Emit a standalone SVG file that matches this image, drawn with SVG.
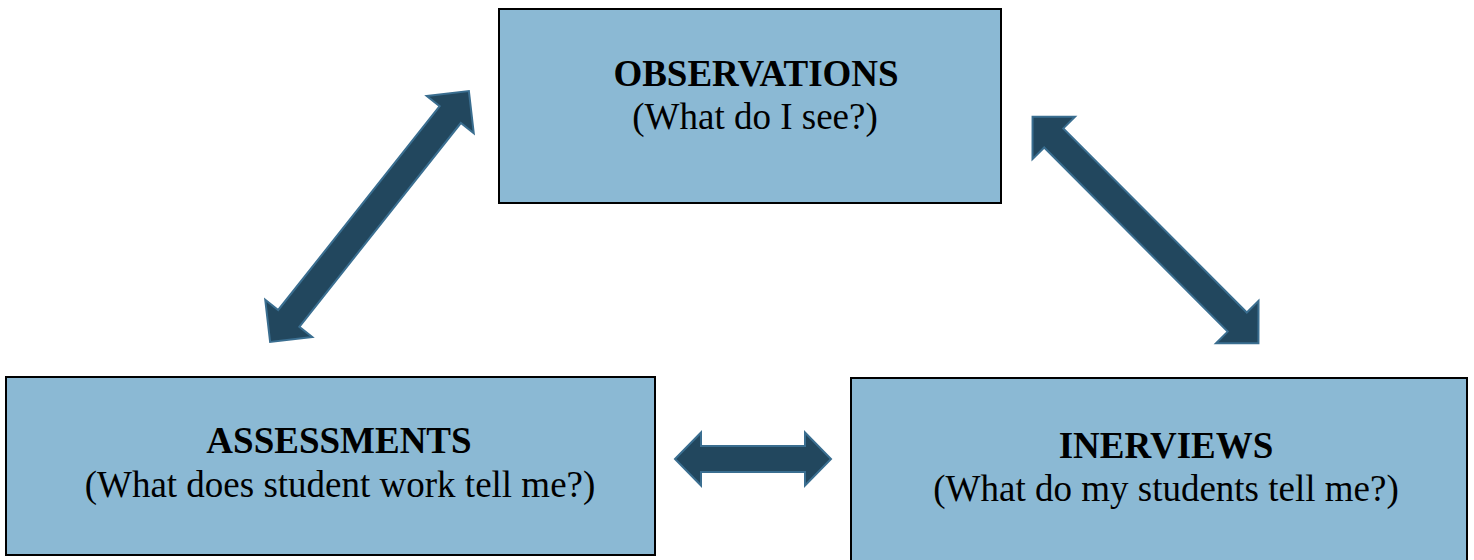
<svg xmlns="http://www.w3.org/2000/svg" width="1474" height="560" viewBox="0 0 1474 560">
  <style>
    .box { fill: #8bb9d4; stroke: #000000; stroke-width: 2; }
    .title { font-family: "Liberation Serif", "Times New Roman", serif; font-weight: bold; font-size: 37px; fill: #000000; text-anchor: middle; }
    .sub { font-family: "Liberation Serif", "Times New Roman", serif; font-size: 37px; fill: #000000; text-anchor: middle; }
    .arrow { fill: #22475e; stroke: #3a6e90; stroke-width: 2; stroke-linejoin: miter; }
  </style>
  <rect width="1474" height="560" fill="#ffffff"/>
  <g id="observations">
    <rect class="box" x="499" y="9" width="502" height="194"/>
    <text class="title" x="756" y="86">OBSERVATIONS</text>
    <text class="sub" x="755" y="129">(What do I see?)</text>
  </g>
  <g id="assessments">
    <rect class="box" x="6" y="377" width="649" height="178"/>
    <text class="title" x="339" y="453">ASSESSMENTS</text>
    <text class="sub" x="340" y="497">(What does student work tell me?)</text>
  </g>
  <g id="interviews">
    <rect class="box" x="851" y="378" width="616" height="190"/>
    <text class="title" x="1166" y="458">INERVIEWS</text>
    <text class="sub" x="1166" y="501">(What do my students tell me?)</text>
  </g>
  <g id="connectors">
    <path class="arrow" transform="translate(369.5,216.5) rotate(-51.6)" d="M -160,0 L -130,-30 L -130,-13.5 L 130,-13.5 L 130,-30 L 160,0 L 130,30 L 130,13.5 L -130,13.5 L -130,30 Z"/>
    <path class="arrow" transform="translate(1145.5,230) rotate(45.1)" d="M -160,0 L -130,-30 L -130,-13.5 L 130,-13.5 L 130,-30 L 160,0 L 130,30 L 130,13.5 L -130,13.5 L -130,30 Z"/>
    <path class="arrow" transform="translate(753,459)" d="M -78,0 L -52,-26.5 L -52,-13 L 52,-13 L 52,-26.5 L 78,0 L 52,26.5 L 52,13 L -52,13 L -52,26.5 Z"/>
  </g>
</svg>
